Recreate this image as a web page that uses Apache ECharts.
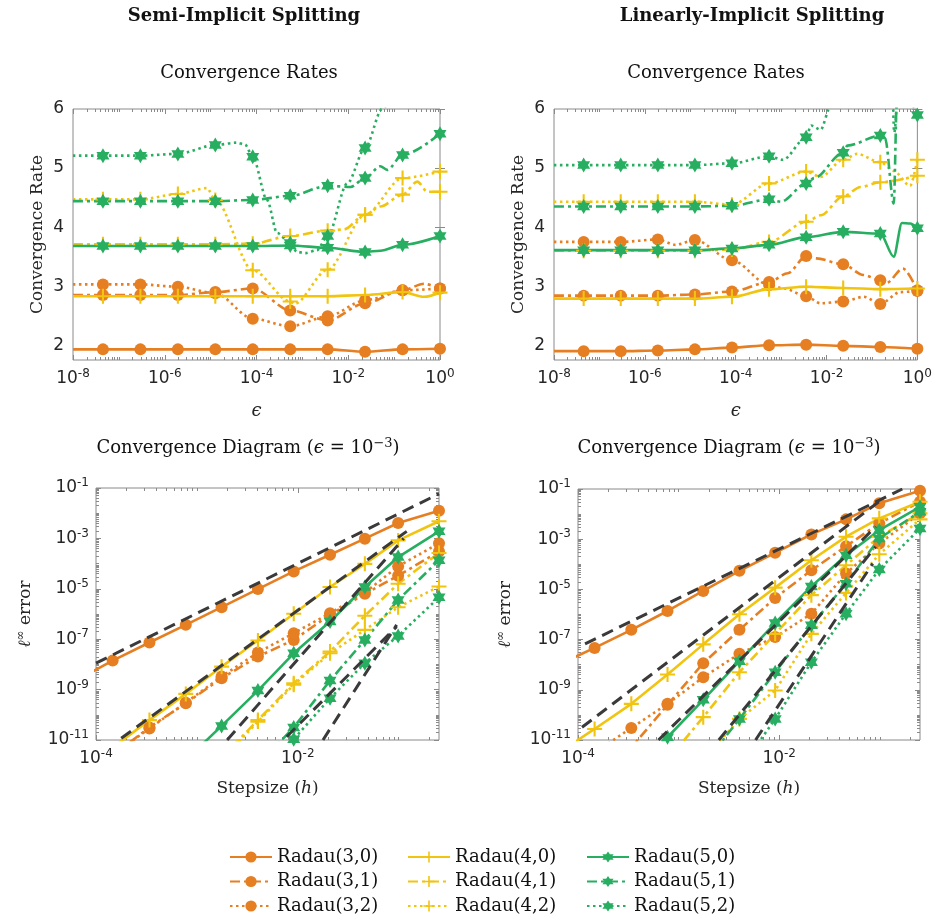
<!DOCTYPE html>
<html><head><meta charset="utf-8">
<script src="https://cdn.jsdelivr.net/npm/echarts@6/dist/echarts.min.js"></script>
<style>html,body{margin:0;padding:0;background:#fff}#c{width:935px;height:923px}</style>
</head><body><div id="c"></div>
<script>
// ---------- DATA ----------
const names = ['Radau(3,0)','Radau(3,1)','Radau(3,2)','Radau(4,0)','Radau(4,1)','Radau(4,2)','Radau(5,0)','Radau(5,1)','Radau(5,2)'];

// log10(epsilon) of the marker points in the convergence-rate panels
const epsExp = [-7.347,-6.531,-5.714,-4.898,-4.082,-3.265,-2.449,-1.633,-0.816,0];

// Semi-implicit splitting: convergence rates at markers, plus extra (unmarked) line points [log10 eps, rate]
const semiR30 = [1.93,1.93,1.93,1.93,1.93,1.93,1.93,1.89,1.93,1.94];
const semiR30x = [[-8,1.93]];
const semiR31 = [2.85,2.85,2.85,2.90,2.96,2.59,2.42,2.71,2.93,2.96];
const semiR31x = [[-8,2.85],[-0.35,3.04]];
const semiR32 = [3.03,3.03,2.99,2.88,2.45,2.32,2.49,2.76,2.93,2.96];
const semiR32x = [[-8,3.03]];
const semiR40 = [2.83,2.83,2.83,2.83,2.83,2.83,2.83,2.85,2.90,2.89];
const semiR40x = [[-8,2.83],[-0.35,2.82]];
const semiR41 = [3.71,3.71,3.71,3.71,3.72,3.85,3.94,4.21,4.55,4.60];
const semiR41x = [[-8,3.71],[-2.1,3.96],[-1.3,4.35],[-0.495,4.77],[-0.277,4.6]];
const semiR42 = [4.47,4.47,4.56,4.46,3.27,2.74,3.28,4.21,4.83,4.94];
const semiR42x = [[-8,4.47],[-5.08,4.66],[-3.17,2.70]];
const semiR50 = [3.68,3.68,3.68,3.68,3.68,3.69,3.65,3.58,3.70,3.85];
const semiR50x = [[-8,3.68],[-1.3,3.60]];
const semiR51 = [4.44,4.44,4.44,4.44,4.46,4.53,4.70,4.83,5.22,5.58];
const semiR51x = [[-8,4.44],[-1.95,4.68],[-1.30,5.03],[-1.15,4.97]];
const semiR52 = [5.21,5.21,5.24,5.39,5.19,3.73,3.85,5.34,6.6,7.2];
const semiR52x = [[-8,5.21],[-4.43,5.43],[-4.25,5.40],[-3.77,4.46],[-3.55,3.90],[-3.12,3.58],[-2.93,3.56],[-2.68,3.61],[-2.02,4.74],[-1.26,6.0]];

// Linearly-implicit splitting: convergence rates
const linR30 = [1.90,1.90,1.91,1.93,1.96,2.00,2.01,1.99,1.97,1.94];
const linR30x = [[-8,1.90]];
const linR31 = [2.84,2.84,2.84,2.86,2.91,3.07,3.51,3.37,3.10,2.93];
const linR31x = [[-8,2.84],[-2.85,3.22],[-2.22,3.47],[-1.19,3.19],[-0.67,3.06],[-0.32,3.30]];
const linR32 = [3.75,3.75,3.79,3.78,3.44,3.02,2.83,2.74,2.70,2.92];
const linR32x = [[-8,3.75],[-5.33,3.70],[-2.93,2.96],[-2.13,2.71],[-1.18,2.82],[-0.38,2.90]];
const linR40 = [2.79,2.79,2.79,2.79,2.82,2.95,2.99,2.97,2.95,2.96];
const linR40x = [[-8,2.79]];
const linR41 = [3.60,3.60,3.60,3.60,3.62,3.75,4.09,4.52,4.76,4.87];
const linR41x = [[-8,3.60],[-2.13,4.20],[-1.25,4.68]];
const linR42 = [4.43,4.43,4.43,4.43,4.38,4.74,4.94,5.14,5.10,5.14];
const linR42x = [[-8,4.43],[-2.13,4.85],[-1.33,5.24],[-0.52,4.95],[-0.16,4.70]];
const linR50 = [3.61,3.61,3.61,3.61,3.64,3.70,3.83,3.92,3.89,3.98];
const linR50x = [[-8,3.61],[-0.52,3.50],[-0.34,4.07],[-0.16,4.06]];
const linR51 = [4.35,4.35,4.35,4.35,4.36,4.47,4.74,5.26,5.55,6.3];
const linR51x = [[-8,4.35],[-3.0,4.43],[-2.27,4.83],[-1.54,5.38],[-0.71,5.5],[-0.52,4.4],[-0.44,6.5]];
const linR52 = [5.05,5.05,5.05,5.05,5.08,5.20,5.52,6.7,6.8,5.9];
const linR52x = [[-8,5.05],[-2.96,5.14],[-2.34,5.72],[-2.13,5.65],[-1.91,6.05],[-0.56,6.6],[-0.51,5.6],[-0.41,6.4]];

// log10(h) of the step sizes in the convergence diagrams
const hExp = [-4.19,-3.835,-3.47,-3.11,-2.755,-2.395,-2.04,-1.68,-1.335,-1.005,-0.6];

// Semi-implicit: log10 of l-infinity error at each h
const semiE30 = [-8.63,-7.85,-7.13,-6.43,-5.73,-5.01,-4.31,-3.65,-3.01,-2.39,-1.90];
const semiE31 = [-12.4,-11.6,-10.50,-9.54,-8.55,-7.69,-7.03,-6.03,-5.20,-4.48,-3.52];
const semiE32 = [-12.4,-11.6,-10.54,-9.52,-8.48,-7.53,-6.76,-5.97,-5.15,-4.11,-3.19];
const semiE40 = [-12.0,-11.3,-10.21,-9.17,-8.09,-7.05,-5.99,-4.93,-4.01,-3.08,-2.32];
const semiE41 = [-15.5,-14.5,-13.5,-12.8,-11.7,-10.21,-8.75,-7.49,-6.07,-4.80,-3.58];
const semiE42 = [-15.5,-14.5,-13.5,-12.8,-11.8,-10.27,-8.81,-7.56,-6.63,-5.73,-4.91];
const semiE50 = [-16,-14.6,-13.2,-11.8,-10.44,-9.04,-7.56,-6.30,-4.93,-3.74,-2.72];
const semiE51 = [-18,-17,-16,-15,-13.5,-12.0,-10.50,-8.64,-7.03,-5.44,-3.87];
const semiE52 = [-18,-17,-16,-15,-14,-12.5,-10.97,-9.34,-7.95,-6.87,-5.34];
// reference order lines [log10 h, log10 err] end points
const semiRef = [[[-4,-7.95],[-0.6,-1.23]],[[-3.75,-10.93],[-0.92,-2.72]],[[-2.70,-11],[-0.95,-3.0]],[[-2.11,-10.87],[-1.02,-6.5]],[[-1.75,-11],[-1.02,-6.43]]];

// Linearly-implicit: log10 of l-infinity error
const linE30 = [-7.99,-7.33,-6.61,-5.86,-5.06,-4.26,-3.54,-2.81,-2.21,-1.57,-1.07];
const linE31 = [-13.5,-12.4,-11.3,-9.6,-7.94,-6.61,-5.34,-4.24,-3.28,-2.37,-1.51];
const linE32 = [-12.5,-11.5,-10.52,-9.56,-8.50,-7.56,-6.90,-5.97,-4.37,-3.17,-1.97];
const linE40 = [-11.5,-10.56,-9.56,-8.39,-7.19,-5.99,-4.93,-3.84,-2.90,-2.17,-1.51];
const linE41 = [-15.5,-14.2,-13.0,-11.8,-10.09,-8.30,-6.77,-5.23,-4.04,-2.90,-1.97];
const linE42 = [-17,-16,-15,-13.8,-11.8,-10.16,-9.03,-6.77,-5.14,-3.60,-2.21];
const linE50 = [-15.3,-13.8,-12.3,-10.89,-9.40,-7.86,-6.34,-4.88,-3.64,-2.64,-1.71];
const linE51 = [-17,-16,-15,-13.8,-12.0,-10.16,-8.30,-6.43,-4.77,-2.97,-1.91];
const linE52 = [-19,-18,-17,-15.5,-14,-12.2,-10.16,-7.90,-5.97,-4.21,-2.57];
const linRef = [[[-3.93,-7.17],[-0.776,-1.0]],[[-3.96,-10.49],[-1.01,-1.51]],[[-3.2,-11],[-1.04,-2.5]],[[-2.6,-11],[-1.04,-3.3]],[[-2.235,-11],[-1.07,-3.97]]];

// tick labels
const rateTicks = [2,3,4,5,6];
const epsTicks = [-8,-6,-4,-2,0];
const hTicks = [-4,-2];
const errTicks = [-11,-9,-7,-5,-3,-1];

// ---------- STYLE ----------
const ORANGE='#E67E22', YELLOW='#F1C40F', GREEN='#27AE60', GREY='#3a3a3a';
const PLUS='path://M4.3,0h1.4v10h-1.4z M0,4.3h10v1.4h-10z';
const HEX='path://M10,0L12.89,5L18.66,5L15.77,10L18.66,15L12.89,15L10,20L7.11,15L1.34,15L4.23,10L1.34,5L7.11,5Z';
const DASHDOT=[10,4,3,4], DOT=[2.5,3.5];
const STY = [
  {c:ORANGE,sym:'circle',sz:12,d:'solid'},{c:ORANGE,sym:'circle',sz:12,d:DASHDOT},{c:ORANGE,sym:'circle',sz:12,d:DOT},
  {c:YELLOW,sym:PLUS,sz:15,d:'solid'},{c:YELLOW,sym:PLUS,sz:15,d:DASHDOT},{c:YELLOW,sym:PLUS,sz:15,d:DOT},
  {c:GREEN,sym:HEX,sz:15,d:'solid'},{c:GREEN,sym:HEX,sz:15,d:DASHDOT},{c:GREEN,sym:HEX,sz:15,d:DOT}
];
const SANS='DejaVu Sans', SERIF='DejaVu Serif';
const TXT='#262626', AX='#8a8a8a';

const grids = [
  {left:73, top:109, width:367, height:251},
  {left:554, top:109, width:366, height:251},
  {left:96, top:488, width:343, height:252},
  {left:578, top:489, width:342, height:251}
];

function logMinor(lo, hi, skip){
  const a=[];
  for(let n=Math.floor(lo)-1;n<=Math.ceil(hi);n++){
    for(let k=1;k<10;k++){
      const v=n+Math.log10(k);
      if(v>lo+1e-9 && v<hi-1e-9 && !(k===1 && skip.indexOf(n)>=0)) a.push(+v.toFixed(6));
    }
  }
  return a;
}
const supRich = {
  b:{fontFamily:SANS,fontSize:17,color:TXT},
  s:{fontFamily:SANS,fontSize:12,color:TXT,padding:[0,0,10,0]}
};
const supFmt = v => '{b|10}{s|' + v + '}';

const xAxes=[], yAxes=[];
function addAxes(g, xr, yr, xMaj, yMaj, xLog, yLog, xName, yName, xGap, yGap){
  const xi = xAxes.length, yi = yAxes.length;
  const tickStyle = {color:AX, width:1};
  xAxes.push({gridIndex:g,type:'value',min:xr[0],max:xr[1],position:'bottom',
    axisLine:{show:false},splitLine:{show:false},
    axisTick:{show:true,inside:true,length:5,lineStyle:tickStyle,customValues:xMaj},
    axisLabel:{show:true,customValues:xMaj,formatter:supFmt,rich:supRich,margin:8,hideOverlap:false},
    name:xName.text,nameLocation:'middle',nameGap:xGap,nameTextStyle:xName.style});
  xAxes.push({gridIndex:g,type:'value',min:xr[0],max:xr[1],position:'top',
    axisLine:{show:false},splitLine:{show:false},axisLabel:{show:false},
    axisTick:{show:true,inside:true,length:5,lineStyle:tickStyle,customValues:xMaj}});
  if(xLog){
    const mn = logMinor(xr[0],xr[1],xMaj);
    ['bottom','top'].forEach(p=>xAxes.push({gridIndex:g,type:'value',min:xr[0],max:xr[1],position:p,
      axisLine:{show:false},splitLine:{show:false},axisLabel:{show:false},
      axisTick:{show:true,inside:true,length:3,lineStyle:tickStyle,customValues:mn}}));
  }
  yAxes.push({gridIndex:g,type:'value',min:yr[0],max:yr[1],position:'left',
    axisLine:{show:false},splitLine:{show:false},
    axisTick:{show:true,inside:true,length:5,lineStyle:tickStyle,customValues:yMaj},
    axisLabel:yLog?{show:true,customValues:yMaj,formatter:supFmt,rich:supRich,margin:7}
                  :{show:true,customValues:yMaj,fontFamily:SANS,fontSize:17,color:TXT,margin:9},
    name:yName.text,nameLocation:'middle',nameGap:yGap,nameRotate:90,nameTextStyle:yName.style});
  yAxes.push({gridIndex:g,type:'value',min:yr[0],max:yr[1],position:'right',
    axisLine:{show:false},splitLine:{show:false},axisLabel:{show:false},
    axisTick:{show:true,inside:true,length:5,lineStyle:tickStyle,customValues:yMaj}});
  if(yLog){
    const mn = logMinor(yr[0],yr[1],yMaj);
    ['left','right'].forEach(p=>yAxes.push({gridIndex:g,type:'value',min:yr[0],max:yr[1],position:p,
      axisLine:{show:false},splitLine:{show:false},axisLabel:{show:false},
      axisTick:{show:true,inside:true,length:3,lineStyle:tickStyle,customValues:mn}}));
  }
  return [xi, yi];
}
const serifName = {fontFamily:SERIF,fontSize:17,color:TXT};
const epsName = {text:'ϵ', style:{fontFamily:SERIF,fontSize:18,color:TXT,fontStyle:'italic'}};
const rateName = {text:'Convergence Rate', style:serifName};
const stepName = {text:'{n|Stepsize (}{i|h}{n|)}', style:{rich:{n:{fontFamily:SERIF,fontSize:17,color:TXT},i:{fontFamily:SERIF,fontSize:17,color:TXT,fontStyle:'italic'}}}};
const errName = {text:'{i|ℓ}{s|∞}{n| error}', style:{rich:{n:{fontFamily:SERIF,fontSize:17,color:TXT},i:{fontFamily:SERIF,fontSize:17,color:TXT,fontStyle:'italic'},s:{fontFamily:SERIF,fontSize:12,color:TXT,padding:[0,0,9,0]}}}};

const A0 = addAxes(0,[-8,0],[1.75,6],epsTicks,rateTicks,true,false,epsName,rateName,42,27);
const A1 = addAxes(1,[-8,0],[1.75,6],epsTicks,rateTicks,true,false,epsName,rateName,42,27);
const A2 = addAxes(2,[-4,-0.6],[-11,-1],hTicks,errTicks,true,true,stepName,errName,40,60);
const A3 = addAxes(3,[-4,-0.6],[-11,-1],hTicks,errTicks,true,true,stepName,errName,40,62);

const series=[];
function lineS(idx, ax, pts, smooth){
  const st=STY[idx];
  series.push({type:'line',name:names[idx],xAxisIndex:ax[0],yAxisIndex:ax[1],data:pts,clip:true,
    symbol:st.sym,symbolSize:st.sz,symbolKeepAspect:true,showAllSymbol:true,
    smooth:smooth?0.3:false,smoothMonotone:smooth?'x':undefined,
    lineStyle:{color:st.c,width:2.6,type:st.d,cap:'butt'},itemStyle:{color:st.c},
    emphasis:{disabled:true},z:2});
}
function rateSeries(idx, ax, marks, extras){
  const pts = marks.map((v,i)=>({value:[epsExp[i],v]}));
  extras.forEach(p=>pts.push({value:[p[0],p[1]],symbol:'none'}));
  pts.sort((a,b)=>a.value[0]-b.value[0]);
  lineS(idx, ax, pts, true);
}
const semiR=[[semiR30,semiR30x],[semiR31,semiR31x],[semiR32,semiR32x],[semiR40,semiR40x],[semiR41,semiR41x],[semiR42,semiR42x],[semiR50,semiR50x],[semiR51,semiR51x],[semiR52,semiR52x]];
const linR=[[linR30,linR30x],[linR31,linR31x],[linR32,linR32x],[linR40,linR40x],[linR41,linR41x],[linR42,linR42x],[linR50,linR50x],[linR51,linR51x],[linR52,linR52x]];
semiR.forEach((d,i)=>rateSeries(i,A0,d[0],d[1]));
linR.forEach((d,i)=>rateSeries(i,A1,d[0],d[1]));
const semiE=[semiE30,semiE31,semiE32,semiE40,semiE41,semiE42,semiE50,semiE51,semiE52];
const linE=[linE30,linE31,linE32,linE40,linE41,linE42,linE50,linE51,linE52];
semiE.forEach((d,i)=>lineS(i,A2,d.map((v,j)=>[hExp[j],v]),false));
linE.forEach((d,i)=>lineS(i,A3,d.map((v,j)=>[hExp[j],v]),false));
function refS(ax, lines){
  lines.forEach(l=>series.push({type:'line',name:'ref',xAxisIndex:ax[0],yAxisIndex:ax[1],data:l,clip:true,
    symbol:'none',lineStyle:{color:GREY,width:3,type:[12,7],cap:'butt'},emphasis:{disabled:true},z:3,silent:true}));
}
refS(A2, semiRef);
refS(A3, linRef);

const titleRich = {n:{fontFamily:SERIF,fontSize:18,fontWeight:'normal',color:'#111'},i:{fontFamily:SERIF,fontSize:18,fontWeight:'normal',color:'#111',fontStyle:'italic'},s:{fontFamily:SERIF,fontSize:13,fontWeight:'normal',color:'#111',padding:[0,0,10,0]}};
const diagTitle = '{n|Convergence Diagram (}{i|ϵ}{n| = 10}{s|−3}{n|)}';
const titles = [
  {text:'Semi-Implicit Splitting',left:239,top:2,textAlign:'center',textStyle:{fontFamily:SERIF,fontSize:18,fontWeight:'bold',color:'#111'}},
  {text:'Linearly-Implicit Splitting',left:747,top:2,textAlign:'center',textStyle:{fontFamily:SERIF,fontSize:18,fontWeight:'bold',color:'#111'}},
  {text:'Convergence Rates',left:244,top:59,textAlign:'center',textStyle:{fontFamily:SERIF,fontSize:18,fontWeight:'normal',color:'#111'}},
  {text:'Convergence Rates',left:711,top:59,textAlign:'center',textStyle:{fontFamily:SERIF,fontSize:18,fontWeight:'normal',color:'#111'}},
  {text:diagTitle,left:243,top:432,textAlign:'center',textStyle:{fontWeight:'normal',rich:titleRich}},
  {text:diagTitle,left:724,top:432,textAlign:'center',textStyle:{fontWeight:'normal',rich:titleRich}}
];
function legendCol(left, items){
  return {orient:'vertical',left:left,top:848,height:80,padding:0,itemWidth:42,itemHeight:14,itemGap:6.5,
    data:items,selectedMode:false,textStyle:{fontFamily:SERIF,fontSize:18,lineHeight:18,color:'#111'}};
}
const chart = echarts.init(document.getElementById('c'),null,{renderer:'canvas'});
chart.setOption({
  animation:false,
  backgroundColor:'#fff',
  title:titles,
  grid:grids.map(g=>Object.assign({show:true,borderColor:AX,borderWidth:1,backgroundColor:'transparent',containLabel:false},g)),
  xAxis:xAxes, yAxis:yAxes,
  legend:[legendCol(229,names.slice(0,3)),legendCol(407,names.slice(3,6)),legendCol(586,names.slice(6,9))],
  series:series
});
</script></body></html>
